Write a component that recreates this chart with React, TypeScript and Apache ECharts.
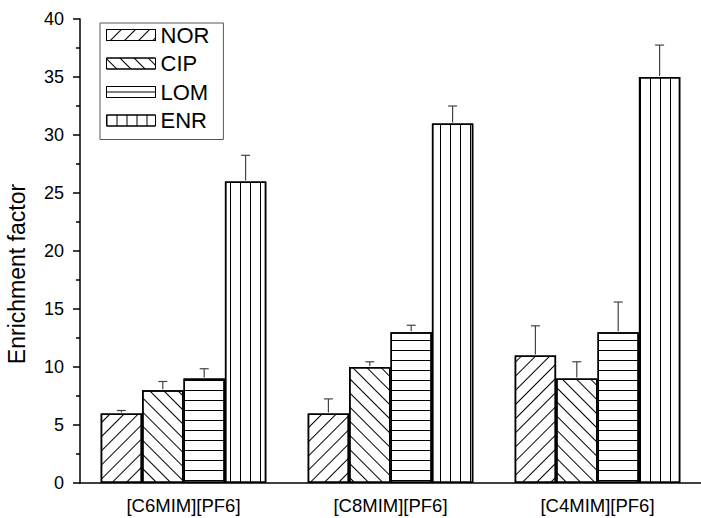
import React, { useEffect, useRef } from "react";
import * as echarts from "echarts";

// Ionic-liquid extractants on the category axis
const categories = ["[C6MIM][PF6]", "[C8MIM][PF6]", "[C4MIM][PF6]"];
const seriesNames = ["NOR", "CIP", "LOM", "ENR"];

// Enrichment factor per analyte, one value per ionic liquid
const norValues = [6, 6, 11];
const cipValues = [8, 10, 9];
const lomValues = [9, 13, 13];
const enrValues = [26, 31, 35];

// Standard deviations (upper error bars)
const norErrors = [0.25, 1.25, 2.55];
const cipErrors = [0.75, 0.45, 1.45];
const lomErrors = [0.85, 0.6, 2.6];
const enrErrors = [2.25, 1.5, 2.75];

const yTicks = { min: 0, max: 40, interval: 5 };

const FONT = "'Liberation Sans', Arial, Helvetica, sans-serif";

const hatch = {
  NOR: { symbol: "rect", dashArrayX: [1, 0], dashArrayY: [1, 9], rotation: -Math.PI / 4 },
  CIP: { symbol: "rect", dashArrayX: [1, 0], dashArrayY: [1, 9], rotation: Math.PI / 4 },
  LOM: { symbol: "rect", dashArrayX: [1, 0], dashArrayY: [1, 8.5], rotation: 0 },
  ENR: { symbol: "rect", dashArrayX: [1, 8.7], dashArrayY: [1, 0], rotation: 0 },
};

export default function App() {
  const ref = useRef<HTMLDivElement>(null);

  useEffect(() => {
    if (!ref.current) return;
    const chart = echarts.init(ref.current, undefined, { renderer: "svg" });

    const valueSets = [norValues, cipValues, lomValues, enrValues];
    const errorSets = [norErrors, cipErrors, lomErrors, enrErrors];

    const barSeries = seriesNames.map((name, i) => ({
      name,
      type: "bar",
      xAxisIndex: 0,
      barWidth: "20%",
      barGap: "0%",
      data: valueSets[i],
      itemStyle: {
        color: "#ffffff",
        borderColor: "#000000",
        borderWidth: 1.5,
        decal: { ...(hatch as any)[name], color: "#000000", symbolSize: 1 },
      },
      emphasis: { disabled: true },
      z: 2,
    }));

    const errorSeries = seriesNames.map((name, i) => ({
      name: name + " error",
      type: "custom",
      xAxisIndex: 0,
      z: 5,
      clip: false,
      data: valueSets[i].map((v, k) => [k, v, errorSets[i][k]]),
      renderItem: (params: any, api: any) => {
        const k = api.value(0);
        const v = api.value(1);
        const e = api.value(2);
        const band = api.size([1, 0])[0];
        const offset = (i - 1.5) * band * 0.2;
        const base = api.coord([k, v]);
        const top = api.coord([k, v + e]);
        const x = base[0] + offset;
        const half = 4.5;
        const style = { stroke: "#444444", lineWidth: 1.2 };
        return {
          type: "group",
          children: [
            { type: "line", shape: { x1: x, y1: base[1] - 1, x2: x, y2: top[1] }, style },
            { type: "line", shape: { x1: x - half, y1: top[1], x2: x + half, y2: top[1] }, style },
          ],
        };
      },
    }));

    // Legend swatch for LOM: one rule across the middle of the small box
    const legendData = seriesNames.map((name) =>
      name === "LOM"
        ? {
            name,
            itemStyle: {
              color: "#ffffff",
              borderColor: "#000",
              borderWidth: 1,
              decal: { symbol: "rect", dashArrayX: [1, 0], dashArrayY: [0, 5, 1, 5], color: "#000000", symbolSize: 1 },
            },
          }
        : { name }
    );

    chart.setOption({
      animation: false,
      grid: { left: 80, right: -9, top: 19, bottom: 35, containLabel: false },
      legend: {
        data: legendData,
        orient: "vertical",
        left: 100,
        top: 23,
        icon: "rect",
        itemWidth: 49,
        itemHeight: 11,
        itemGap: 6.5,
        padding: [1, 14, 8, 6],
        borderColor: "#555555",
        borderWidth: 1,
        backgroundColor: "#ffffff",
        selectedMode: false,
        textStyle: { fontFamily: FONT, fontSize: 22, color: "#000", lineHeight: 22 },
        itemStyle: { borderColor: "#000", borderWidth: 1 },
      },
      xAxis: [
        {
          type: "category",
          data: categories,
          axisLine: { lineStyle: { color: "#000", width: 1.5 } },
          axisTick: { alignWithLabel: true, length: 7, lineStyle: { color: "#000", width: 1.5 } },
          axisLabel: { fontFamily: FONT, fontSize: 18.5, color: "#000", margin: 13 },
          splitLine: { show: false },
        },
        {
          type: "category",
          data: categories,
          position: "bottom",
          axisLine: { show: false },
          axisTick: { alignWithLabel: false, length: 4, lineStyle: { color: "#000", width: 1.5 } },
          axisLabel: { show: false },
          splitLine: { show: false },
        },
      ],
      yAxis: {
        type: "value",
        min: yTicks.min,
        max: yTicks.max,
        interval: yTicks.interval,
        axisLine: { show: true, lineStyle: { color: "#000", width: 1.5 } },
        axisTick: { show: true, length: 7, lineStyle: { color: "#000", width: 1.5 } },
        minorTick: { show: true, splitNumber: 2, length: 4, lineStyle: { color: "#000", width: 1.5 } },
        axisLabel: { fontFamily: FONT, fontSize: 18, color: "#000", margin: 16 },
        splitLine: { show: false },
      },
      graphic: [
        {
          type: "text",
          x: 17,
          y: 274,
          rotation: Math.PI / 2,
          style: {
            text: "Enrichment factor",
            fontFamily: FONT,
            fontSize: 23,
            fill: "#000",
            align: "center",
            verticalAlign: "middle",
          },
        },
      ],
      series: [...barSeries, ...errorSeries],
    });

    return () => chart.dispose();
  }, []);

  return (
    <div
      ref={ref}
      style={{ position: "fixed", left: 0, top: 0, width: 701, height: 518, background: "#fff" }}
    />
  );
}
